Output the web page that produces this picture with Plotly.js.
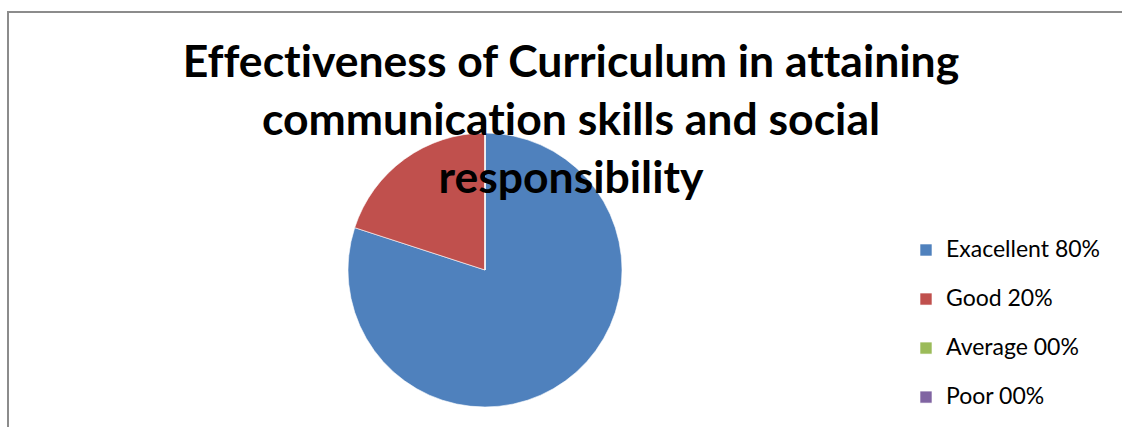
<!DOCTYPE html>
<html>
<head>
<meta charset="utf-8">
<script src="https://cdn.plot.ly/plotly-3.0.1.min.js"></script>
<style>
  html, body { margin: 0; padding: 0; background: #ffffff; }
  #chart { width: 1122px; height: 427px; }
  text { font-variant-ligatures: none; font-feature-settings: "liga" 0; }
</style>
</head>
<body>
<div id="chart"></div>
<script>
const categories = ["Exacellent 80%", "Good 20%", "Average 00%", "Poor 00%"];
const values = [80, 20, 0, 0];
const colors = ["#4F81BD", "#C0504D", "#9BBB59", "#8064A2"];
const titleText = "Effectiveness of Curriculum in attaining<br>communication skills and social<br>responsibility";

const W = 1122, H = 427;
const cx = 485, cy = 270, r = 137;

// legend labels: blank first line for spacing, larger visible text on the second line
const legendLabels = categories.map(c => ' <br><span style="font-size:23px">' + c + '</span>');

const trace = {
  type: "pie",
  labels: legendLabels,
  values: values,
  sort: false,
  direction: "clockwise",
  rotation: 0,
  textinfo: "none",
  hoverinfo: "none",
  marker: { colors: colors, line: { color: "#ffffff", width: 0.6 } },
  domain: { x: [(cx - r) / W, (cx + r) / W], y: [(H - cy - r) / H, (H - cy + r) / H] },
  showlegend: true
};

const layout = {
  width: W, height: H,
  margin: { l: 0, r: 0, t: 0, b: 0 },
  paper_bgcolor: "#ffffff",
  plot_bgcolor: "#ffffff",
  font: { family: "Lato, 'Open Sans', sans-serif", color: "#000000" },
  title: {
    text: titleText,
    font: { family: "Lato, 'Open Sans', sans-serif", size: 44.5, weight: "bold", color: "#000000" },
    x: 571 / W, xanchor: "center", xref: "paper",
    y: 1 - 77 / H, yanchor: "top", yref: "container"
  },
  legend: {
    x: 906 / W, xanchor: "left",
    y: 1 - 312.5 / H, yanchor: "middle", yref: "paper",
    valign: "bottom",
    font: { family: "Lato, 'Open Sans', sans-serif", size: 17.7, color: "#000000" },
    bgcolor: "rgba(0,0,0,0)",
    traceorder: "normal"
  },
  shapes: [{
    type: "rect", xref: "paper", yref: "paper",
    x0: 8 / W, x1: 1.1, y0: -0.2, y1: 1 - 12 / H,
    line: { color: "#8c8c8c", width: 2 }, fillcolor: "rgba(0,0,0,0)", layer: "below"
  }]
};

Plotly.newPlot("chart", [trace], layout, { displayModeBar: false, staticPlot: true });
</script>
</body>
</html>
